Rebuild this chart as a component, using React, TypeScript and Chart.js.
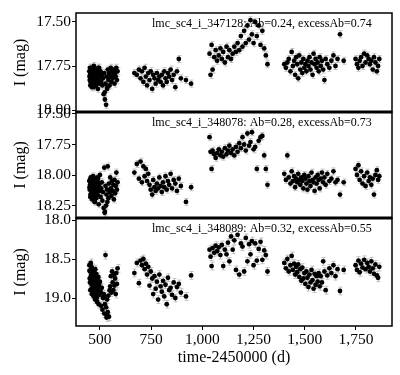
import { useEffect, useRef } from 'react';
import { Chart, registerables } from 'chart.js';

Chart.register(...registerables);

// Observation times (HJD - 2450000), shared by the three stars (same field)
const TIMES_S1 = [
  448, 450, 452, 453, 455, 457, 458, 460, 462, 463,
  465, 467, 469, 470, 472, 474, 476, 478, 480, 482,
  484, 486, 488, 490, 492, 494, 496, 498, 500, 503,
  506, 509, 512, 515, 518, 521, 524, 527, 530, 532,
  535, 538, 541, 544, 547, 550, 553, 556, 559, 562,
  565, 568, 571, 574, 577, 580, 583, 586, 523, 536,
];
const TIMES_S1B = [
  449, 451, 454, 456, 459, 461, 464, 466, 468, 471,
  473, 475, 477, 479, 481, 483, 485, 487, 489, 491,
];
const TIMES_S2 = [
  668, 680, 690, 698, 705, 712, 718, 724, 730, 736,
  742, 748, 755, 760, 766, 772, 778, 784, 790, 796,
  802, 808, 814, 820, 826, 832, 838, 845, 852, 860,
  868, 876, 885, 895, 920, 945,
];
const TIMES_S3 = [
  1035, 1040, 1045, 1050, 1058, 1065, 1072, 1080, 1088, 1095,
  1102, 1110, 1118, 1125, 1132, 1140, 1148, 1156, 1164, 1172,
  1180, 1188, 1196, 1204, 1212, 1220, 1228, 1235, 1242, 1250,
  1258, 1266, 1275, 1284, 1293, 1302, 1310, 1318,
];
const TIMES_S4 = [
  1400, 1408, 1415, 1422, 1430, 1436, 1442, 1448, 1453, 1458,
  1463, 1468, 1473, 1478, 1483, 1488, 1493, 1498, 1503, 1508,
  1513, 1518, 1523, 1528, 1533, 1538, 1543, 1548, 1553, 1558,
  1563, 1568, 1573, 1578, 1584, 1590, 1596, 1602, 1610, 1620,
  1630, 1640, 1650, 1660, 1672, 1690,
];
const TIMES_S5 = [
  1748, 1755, 1762, 1768, 1775, 1782, 1790, 1797, 1805, 1812,
  1818, 1825, 1832, 1838, 1845, 1852, 1858, 1864,
];
const TIMES = [...TIMES_S1, ...TIMES_S1B, ...TIMES_S2, ...TIMES_S3, ...TIMES_S4, ...TIMES_S5];

// I magnitudes, star 347128
const MAG_347128 = [
  // season 1
  17.78, 17.83, 17.80, 17.86, 17.76, 17.82, 17.79, 17.85, 17.81, 17.77,
  17.84, 17.80, 17.87, 17.75, 17.82, 17.79, 17.83, 17.78, 17.86, 17.81,
  17.77, 17.84, 17.80, 17.88, 17.79, 17.83, 17.76, 17.85, 17.81, 17.78,
  17.84, 17.80, 17.86, 17.82, 17.91, 17.79, 17.94, 17.85, 17.97, 17.81,
  17.88, 17.77, 17.83, 17.79, 17.86, 17.81, 17.76, 17.84, 17.78, 17.82,
  17.80, 17.77, 17.85, 17.79, 17.81, 17.76, 17.83, 17.78, 17.90, 17.87,
  17.81, 17.76, 17.84, 17.79, 17.82, 17.87, 17.78, 17.83, 17.80, 17.85,
  17.77, 17.82, 17.79, 17.86, 17.81, 17.84, 17.78, 17.83, 17.80, 17.76,
  // season 2
  17.79, 17.80, 17.77, 17.82, 17.78, 17.84, 17.76, 17.81, 17.86, 17.79,
  17.83, 17.78, 17.88, 17.80, 17.82, 17.85, 17.79, 17.83, 17.81, 17.84,
  17.80, 17.86, 17.78, 17.82, 17.84, 17.79, 17.81, 17.77, 17.83, 17.80,
  17.87, 17.78, 17.71, 17.82, 17.83, 17.85,
  // season 3
  17.68, 17.80, 17.63, 17.77, 17.70, 17.66, 17.72, 17.69, 17.65, 17.71,
  17.67, 17.73, 17.64, 17.70, 17.66, 17.71, 17.68, 17.64, 17.67, 17.62,
  17.66, 17.58, 17.64, 17.55, 17.62, 17.52, 17.60, 17.49, 17.57, 17.62,
  17.50, 17.58, 17.52, 17.63, 17.55, 17.65, 17.69, 17.74,
  // season 4
  17.74, 17.76, 17.73, 17.71, 17.78, 17.67, 17.75, 17.72, 17.80, 17.70,
  17.74, 17.82, 17.69, 17.77, 17.73, 17.79, 17.71, 17.76, 17.74, 17.78,
  17.72, 17.75, 17.70, 17.77, 17.73, 17.80, 17.68, 17.74, 17.71, 17.76,
  17.73, 17.78, 17.70, 17.75, 17.72, 17.77, 17.83, 17.71, 17.74, 17.76,
  17.72, 17.69, 17.75, 17.71, 17.57, 17.72,
  // season 5
  17.71, 17.74, 17.76, 17.72, 17.70, 17.75, 17.68, 17.73, 17.69, 17.71,
  17.74, 17.72, 17.77, 17.70, 17.73, 17.78, 17.75, 17.71,
];

// I magnitudes, star 348078
const MAG_348078 = [
  // season 1
  18.05, 18.12, 18.08, 18.18, 18.02, 18.10, 18.15, 18.06, 18.20, 18.09,
  18.13, 18.01, 18.17, 18.07, 18.11, 18.22, 18.04, 18.14, 18.09, 18.19,
  18.06, 18.12, 18.16, 18.03, 18.10, 18.24, 18.08, 18.13, 18.00, 18.18,
  18.11, 18.06, 18.21, 18.14, 18.27, 17.94, 18.30, 18.09, 18.25, 18.16,
  18.12, 17.93, 18.19, 18.07, 18.14, 18.02, 18.11, 18.17, 18.05, 18.13,
  18.08, 18.20, 18.04, 18.15, 18.09, 17.98, 18.12, 18.06, 18.31, 18.22,
  18.10, 18.04, 18.16, 18.08, 18.13, 18.19, 18.03, 18.11, 18.07, 18.15,
  18.09, 18.22, 18.05, 18.12, 18.17, 18.08, 18.14, 18.02, 18.11, 18.06,
  // season 2
  17.98, 17.91, 18.03, 17.89, 18.06, 17.93, 18.01, 17.95, 18.05, 17.99,
  18.08, 18.12, 18.16, 18.04, 18.10, 18.13, 18.07, 18.11, 18.02, 18.09,
  18.14, 18.06, 18.10, 18.01, 18.12, 18.05, 18.08, 17.99, 18.11, 18.04,
  18.07, 18.13, 18.03, 18.09, 18.22, 18.10,
  // season 3
  17.69, 17.81, 17.95, 17.80, 17.83, 17.86, 17.82, 17.79, 17.84, 17.81,
  17.85, 17.78, 17.83, 17.80, 17.76, 17.82, 17.79, 17.84, 17.77, 17.81,
  17.74, 17.78, 17.69, 17.75, 17.80, 17.66, 17.76, 17.73, 17.65, 17.79,
  17.77, 17.95, 17.72, 17.69, 17.68, 17.84, 17.95, 18.08,
  // season 4
  17.99, 18.04, 17.84, 18.02, 18.07, 17.97, 18.05, 18.01, 18.10, 18.03,
  18.06, 17.99, 18.04, 18.08, 18.02, 18.05, 18.11, 18.00, 18.03, 18.07,
  18.12, 18.01, 18.05, 18.09, 17.98, 18.04, 18.06, 18.13, 18.02, 18.07,
  18.00, 18.04, 18.11, 18.03, 17.98, 18.06, 18.02, 18.08, 17.99, 18.05,
  18.03, 17.97, 18.06, 18.04, 18.16, 18.06,
  // season 5
  17.95, 18.00, 17.92, 18.04, 17.97, 18.07, 18.01, 18.09, 17.98, 18.05,
  18.02, 18.08, 18.03, 18.16, 18.00, 17.96, 18.04, 18.01,
];

// I magnitudes, star 348089
const MAG_348089 = [
  // season 1
  18.58, 18.75, 18.66, 18.90, 18.55, 18.82, 18.70, 18.95, 18.62, 18.78,
  18.86, 18.68, 18.98, 18.72, 18.88, 18.64, 19.02, 18.80, 18.93, 18.69,
  18.85, 19.05, 18.76, 18.90, 18.73, 19.08, 18.83, 18.96, 18.79, 18.92,
  19.10, 18.87, 19.15, 19.00, 18.95, 19.20, 19.08, 18.45, 19.12, 19.25,
  19.02, 19.18, 18.97, 19.24, 18.90, 18.85, 18.72, 18.93, 18.66, 18.80,
  18.90, 18.70, 18.84, 18.75, 18.95, 18.68, 18.82, 18.62, 18.98, 19.22,
  18.65, 18.80, 18.58, 18.72, 18.88, 18.61, 18.76, 18.92, 18.67, 18.84,
  18.70, 18.97, 18.63, 18.81, 18.90, 18.74, 19.00, 18.79, 18.86, 18.95,
  // season 2
  18.68, 18.55, 18.81, 18.52, 18.58, 18.50, 18.63, 18.56, 18.70, 18.60,
  18.84, 18.66, 18.75, 18.95, 18.72, 18.88, 18.79, 19.02, 18.70, 18.85,
  18.92, 18.78, 18.98, 18.83, 19.08, 18.74, 18.90, 18.87, 18.96, 18.80,
  19.00, 18.86, 18.82, 18.93, 18.98, 18.71,
  // season 3
  18.38, 18.47, 18.59, 18.36, 18.42, 18.33, 18.40, 18.35, 18.45, 18.32,
  18.59, 18.38, 18.44, 18.29, 18.53, 18.21, 18.38, 18.26, 18.64, 18.19,
  18.70, 18.30, 18.34, 18.66, 18.23, 18.53, 18.31, 18.44, 18.27, 18.58,
  18.30, 18.52, 18.37, 18.28, 18.51, 18.39, 18.45, 18.66,
  // season 4
  18.55, 18.62, 18.50, 18.66, 18.58, 18.46, 18.64, 18.56, 18.70, 18.60,
  18.67, 18.57, 18.73, 18.63, 18.78, 18.61, 18.75, 18.68, 18.82, 18.66,
  18.74, 18.86, 18.70, 18.80, 18.64, 18.77, 18.88, 18.69, 18.83, 18.72,
  18.79, 18.68, 18.85, 18.72, 18.80, 18.53, 18.66, 18.90, 18.71, 18.62,
  18.68, 18.58, 18.72, 18.63, 18.91, 18.64,
  // season 5
  18.58, 18.64, 18.52, 18.67, 18.56, 18.61, 18.51, 18.63, 18.55, 18.60,
  18.66, 18.53, 18.62, 18.69, 18.57, 18.71, 18.74, 18.60,
];

// Typical photometric error per star (mag)
const ERRORS = [0.02, 0.028, 0.05];
const PANEL_LABELS = [
  'lmc_sc4_i_347128: Ab=0.24, excessAb=0.74',
  'lmc_sc4_i_348078: Ab=0.28, excessAb=0.73',
  'lmc_sc4_i_348089: Ab=0.32, excessAb=0.55',
];
const MAGS = [MAG_347128, MAG_348078, MAG_348089];
const Y_MIN = [17.449, 17.484, 17.974];
const Y_MAX = [18.011, 18.352, 19.359];
const Y_TICKS_A = [17.5, 17.75, 18.0];
const Y_TICKS_B = [17.5, 17.75, 18.0, 18.25];
const Y_TICKS_C = [18.0, 18.5, 19.0];
const Y_TICKS = [Y_TICKS_A, Y_TICKS_B, Y_TICKS_C];
const Y_DECIMALS = [2, 2, 1];
const X_MIN = 383;
const X_MAX = 1926;
const X_TICKS = [500, 750, 1000, 1250, 1500, 1750];
const AXIS_IDS = ['yA', 'yB', 'yC'];

const FONT = "'Liberation Serif', 'Times New Roman', serif";

const panelPlugin = {
  id: 'panelDecor',
  beforeDatasetsDraw(chart: any) {
    const ctx = chart.ctx;
    const xs = chart.scales.x;
    ctx.save();
    ctx.strokeStyle = '#c2c2c2';
    ctx.lineWidth = 1;
    AXIS_IDS.forEach((id, p) => {
      const ys = chart.scales[id];
      const err = ERRORS[p];
      MAGS[p].forEach((m, i) => {
        const px = Math.round(xs.getPixelForValue(TIMES[i])) + 0.5;
        const y1 = ys.getPixelForValue(m - err);
        const y2 = ys.getPixelForValue(m + err);
        ctx.beginPath();
        ctx.moveTo(px, y1);
        ctx.lineTo(px, y2);
        ctx.moveTo(px - 2, y1);
        ctx.lineTo(px + 2, y1);
        ctx.moveTo(px - 2, y2);
        ctx.lineTo(px + 2, y2);
        ctx.stroke();
      });
    });
    ctx.restore();
  },
  afterDatasetsDraw(chart: any) {
    const ctx = chart.ctx;
    const xs = chart.scales.x;
    ctx.save();
    ctx.strokeStyle = '#000';
    AXIS_IDS.forEach((id, p) => {
      const ys = chart.scales[id];
      ctx.lineWidth = 1.5;
      ctx.strokeRect(xs.left, ys.top, xs.right - xs.left, ys.bottom - ys.top);
      ctx.fillStyle = '#000';
      ctx.font = `12px ${FONT}`;
      ctx.textAlign = 'left';
      ctx.textBaseline = 'alphabetic';
      ctx.fillText(PANEL_LABELS[p], xs.left + 76, ys.top + 13.5);
    });
    ctx.lineWidth = 3;
    ['yA', 'yB'].forEach((id) => {
      const ys = chart.scales[id];
      ctx.beginPath();
      ctx.moveTo(xs.left, ys.bottom);
      ctx.lineTo(xs.right, ys.bottom);
      ctx.stroke();
    });
    ctx.restore();
  },
};

function yAxis(p: number, weight: number, stackWeight: number) {
  return {
    type: 'linear',
    position: 'left',
    stack: 'panels',
    stackWeight,
    weight,
    reverse: true,
    min: Y_MIN[p],
    max: Y_MAX[p],
    afterFit: (s: any) => {
      s.width = 76;
    },
    afterBuildTicks: (s: any) => {
      s.ticks = Y_TICKS[p].map((v) => ({ value: v }));
    },
    ticks: {
      autoSkip: false,
      padding: 1,
      color: '#000',
      font: { family: FONT, size: 15.5 },
      callback: (v: any) => Number(v).toFixed(Y_DECIMALS[p]),
    },
    grid: { drawOnChartArea: false, tickLength: 4, color: '#000' },
    border: { display: false },
    title: {
      display: true,
      text: 'I (mag)',
      color: '#000',
      font: { family: FONT, size: 16 },
      padding: { top: 11, bottom: 0 },
    },
  };
}

export default function App() {
  const ref = useRef<HTMLCanvasElement>(null);
  useEffect(() => {
    const canvas = ref.current;
    if (!canvas) return;
    const datasets = AXIS_IDS.map((id, p) => ({
      label: PANEL_LABELS[p],
      yAxisID: id,
      data: MAGS[p].map((m, i) => ({ x: TIMES[i], y: m })),
      backgroundColor: '#000',
      borderColor: '#000',
      borderWidth: 0,
      pointRadius: 2.4,
      pointStyle: 'circle',
    }));
    const chart = new Chart(canvas, {
      type: 'scatter',
      data: { datasets },
      options: {
        animation: false,
        responsive: false,
        devicePixelRatio: 1,
        layout: { padding: { left: 0, top: 13, right: 8, bottom: 8 } },
        plugins: {
          legend: { display: false },
          tooltip: { enabled: false },
        },
        scales: {
          x: {
            type: 'linear',
            position: 'bottom',
            min: X_MIN,
            max: X_MAX,
            afterFit: (s: any) => {
              s.height = 41;
            },
            afterBuildTicks: (s: any) => {
              s.ticks = X_TICKS.map((v) => ({ value: v }));
            },
            ticks: {
              autoSkip: false,
              padding: 1,
              color: '#000',
              maxRotation: 0,
              font: { family: FONT, size: 15.5 },
              callback: (v: any) => Number(v).toLocaleString('en-US'),
            },
            grid: { drawOnChartArea: false, tickLength: 4, color: '#000' },
            border: { display: false },
            title: {
              display: true,
              text: 'time-2450000 (d)',
              color: '#000',
              font: { family: FONT, size: 16 },
              padding: { top: 0, bottom: 0 },
            },
          },
          yA: yAxis(0, 3, 99),
          yB: yAxis(1, 2, 106),
          yC: yAxis(2, 1, 108),
        } as any,
      },
      plugins: [panelPlugin],
    } as any);
    return () => chart.destroy();
  }, []);
  return (
    <div style={{ position: 'absolute', left: 0, top: 0, width: 400, height: 375, background: '#fff' }}>
      <canvas ref={ref} width={400} height={375} style={{ display: 'block' }} />
    </div>
  );
}
